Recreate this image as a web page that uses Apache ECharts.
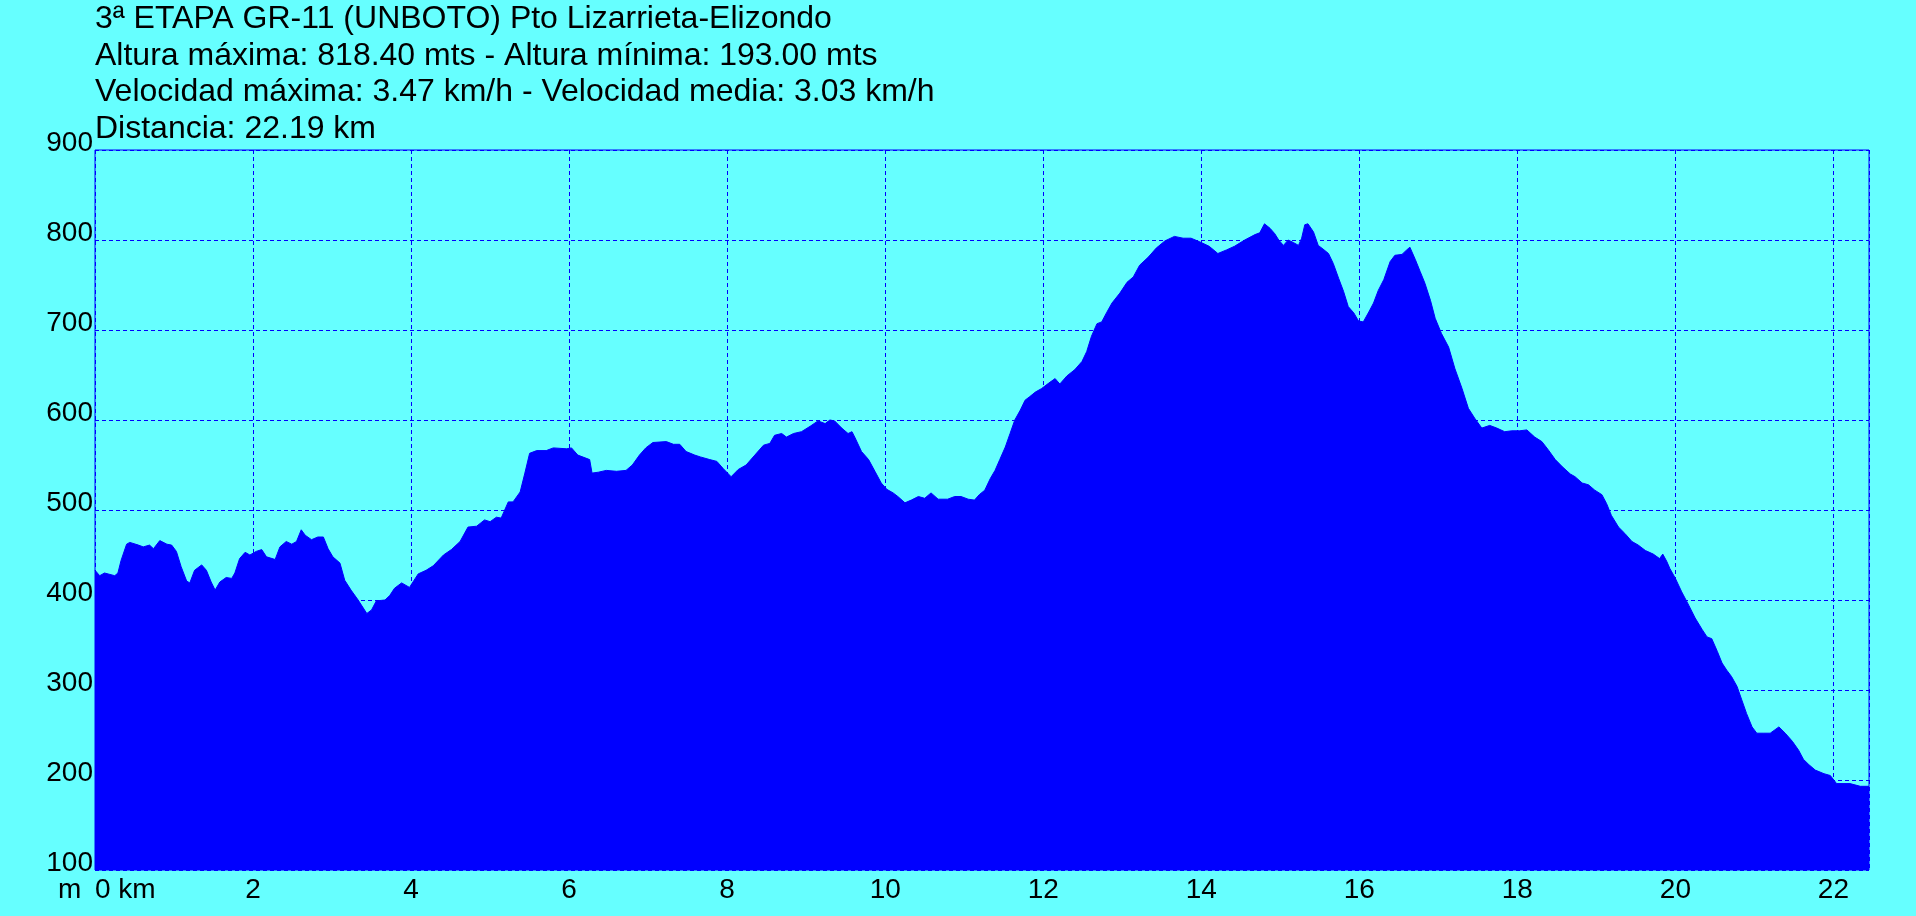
<!DOCTYPE html>
<html>
<head>
<meta charset="utf-8">
<script src="https://cdn.jsdelivr.net/npm/echarts@6/dist/echarts.min.js"></script>
<style>
  html, body { margin: 0; padding: 0; background: #66ffff; }
  #chart { width: 1916px; height: 916px; }
</style>
</head>
<body>
<div id="chart"></div>
<script>
// Title lines
const titleLines = [
  '3ª ETAPA GR-11 (UNBOTO) Pto Lizarrieta-Elizondo',
  'Altura máxima: 818.40 mts - Altura mínima: 193.00 mts',
  'Velocidad máxima: 3.47 km/h - Velocidad media: 3.03 km/h',
  'Distancia: 22.19 km'
];
const yUnit = 'm';
const xUnit = 'km';

// Distance (km) along the route
const distKm = [
  0.00, 0.06, 0.12, 0.25, 0.29, 0.33, 0.40, 0.44, 0.55, 0.61, 0.69, 0.74, 0.82, 0.91, 0.97,
  1.03, 1.09, 1.16, 1.20, 1.26, 1.35, 1.41, 1.47, 1.52, 1.58, 1.66, 1.73, 1.77, 1.83, 1.90, 1.96,
  2.04, 2.11, 2.17, 2.28, 2.34, 2.42, 2.49, 2.55, 2.61, 2.66, 2.74, 2.82, 2.89, 2.95,
  3.01, 3.10, 3.16, 3.24, 3.33, 3.44, 3.50, 3.56, 3.67, 3.73, 3.79, 3.88, 3.98,
  4.09, 4.19, 4.28, 4.41, 4.51, 4.62, 4.72, 4.83, 4.93, 5.00, 5.08, 5.14, 5.23, 5.29, 5.38, 5.44,
  5.50, 5.59, 5.71, 5.80, 5.97, 6.03, 6.11, 6.26, 6.29, 6.37, 6.47, 6.60, 6.72, 6.80, 6.89, 6.97,
  7.06, 7.23, 7.32, 7.40, 7.48, 7.59, 7.66, 7.78, 7.87, 7.95, 8.05, 8.14, 8.24, 8.35, 8.46, 8.54,
  8.60, 8.69, 8.75, 8.84, 8.94, 9.05, 9.15, 9.24, 9.30, 9.36, 9.45, 9.53, 9.58, 9.62, 9.70, 9.79,
  9.87, 9.95, 10.02, 10.10, 10.16, 10.25, 10.33, 10.42, 10.50, 10.58, 10.67, 10.79, 10.88, 10.96,
  11.05, 11.13, 11.19, 11.26, 11.33, 11.39, 11.45, 11.52, 11.58, 11.64, 11.71, 11.77, 11.83, 11.90,
  11.98, 12.07, 12.15, 12.21, 12.30, 12.40, 12.49, 12.55, 12.61, 12.68, 12.74, 12.80, 12.87, 12.97,
  13.06, 13.14, 13.22, 13.33, 13.43, 13.54, 13.66, 13.77, 13.87, 13.98, 14.10, 14.21, 14.32, 14.42,
  14.55, 14.68, 14.74, 14.80, 14.87, 14.93, 14.98, 15.04, 15.10, 15.17, 15.23, 15.27, 15.31, 15.35,
  15.42, 15.48, 15.54, 15.61, 15.67, 15.74, 15.80, 15.86, 15.93, 15.99, 16.05, 16.12, 16.18, 16.24,
  16.31, 16.39, 16.45, 16.54, 16.60, 16.64, 16.71, 16.77, 16.83, 16.90, 16.96, 17.04, 17.13, 17.21,
  17.30, 17.38, 17.46, 17.55, 17.65, 17.74, 17.84, 17.93, 18.03, 18.12, 18.22, 18.31, 18.39, 18.48,
  18.57, 18.67, 18.73, 18.82, 18.90, 18.98, 19.07, 19.13, 19.19, 19.28, 19.36, 19.45, 19.53, 19.62,
  19.72, 19.80, 19.84, 19.89, 19.93, 20.00, 20.08, 20.17, 20.25, 20.34, 20.40, 20.46, 20.53, 20.59,
  20.65, 20.71, 20.78, 20.84, 20.90, 20.97, 21.03, 21.12, 21.20, 21.31, 21.39, 21.48, 21.56, 21.62,
  21.69, 21.77, 21.88, 21.96, 22.04, 22.21, 22.34, 22.45
];

// Elevation (m)
const elevM = [
  433, 427, 430, 427, 430, 444, 462, 464, 461, 459, 461, 457, 466, 462, 461,
  454, 437, 421, 419, 433, 439, 433, 420, 411, 420, 425, 424, 430, 446, 453, 450,
  454, 456, 448, 445, 459, 465, 462, 465, 478, 472, 467, 470, 470, 457,
  448, 441, 422, 411, 400, 385, 389, 399, 400, 405, 413, 419, 414,
  429, 433, 438, 450, 456, 465, 481, 482, 489, 487, 492, 491, 509, 509, 520, 541,
  563, 566, 566, 569, 568, 569, 561, 556, 541, 542, 544, 543, 544, 550, 561, 569,
  575, 576, 573, 573, 565, 561, 559, 556, 554, 546, 537, 545, 550, 561, 572, 574,
  583, 585, 581, 585, 587, 593, 599, 596, 600, 599, 591, 585, 587, 580, 565, 556,
  543, 530, 523, 519, 515, 508, 511, 515, 513, 519, 512, 512, 515, 515,
  512, 511, 517, 522, 535, 544, 556, 570, 585, 600, 611, 622, 626, 631,
  635, 641, 646, 640, 649, 656, 665, 676, 693, 707, 709, 719, 730, 741,
  753, 759, 772, 781, 791, 799, 804, 802, 802, 798, 793, 785, 789, 793,
  800, 806, 808, 818, 813, 807, 800, 794, 800, 797, 794, 802, 817, 818,
  809, 794, 790, 785, 774, 757, 743, 726, 719, 710, 709, 720, 730, 744,
  756, 776, 783, 784, 789, 792, 778, 765, 752, 733, 713, 696, 681, 657,
  635, 613, 602, 591, 594, 591, 587, 588, 588, 589, 581, 576, 567, 556,
  548, 540, 537, 530, 528, 522, 517, 507, 494, 481, 474, 465, 461, 455,
  451, 446, 451, 443, 435, 424, 409, 394, 380, 367, 359, 357, 343, 330,
  322, 315, 304, 289, 274, 259, 252, 252, 252, 259, 252, 243, 233, 223,
  217, 211, 207, 205, 196, 196, 193, 193
];

const profile = distKm.map((d, i) => [d, elevM[i]]);

const FONT = '"Liberation Sans", Arial, sans-serif';
const TITLE_FS = 32;
const titleBaselines = [29.5, 66, 102.5, 139];

const chart = echarts.init(document.getElementById('chart'), null, { renderer: 'canvas' });

const graphics = titleLines.map((t, i) => ({
  type: 'text',
  style: {
    text: t,
    x: 95,
    y: titleBaselines[i] - 10,
    fill: '#000000',
    font: TITLE_FS + 'px ' + FONT,
    align: 'left',
    verticalAlign: 'middle'
  },
  z: 100
}));
graphics.push({
  type: 'text',
  style: {
    text: yUnit,
    x: 58,
    y: 899 - 9,
    fill: '#000000',
    font: '28px ' + FONT,
    align: 'left',
    verticalAlign: 'middle'
  },
  z: 100
});

chart.setOption({
  backgroundColor: '#66ffff',
  animation: false,
  grid: {
    left: 95,
    right: 47,
    top: 150,
    height: 720,
    show: true,
    borderColor: '#0000ff',
    borderWidth: 1,
    backgroundColor: 'transparent'
  },
  graphic: graphics,
  xAxis: {
    type: 'value',
    min: 0,
    max: 22.45,
    interval: 2,
    axisLine: { show: false },
    axisTick: { show: false },
    splitLine: { show: true, lineStyle: { color: '#0000ff', type: [4, 3], width: 1 } },
    axisLabel: {
      color: '#000000',
      fontSize: 28,
      fontFamily: FONT,
      lineHeight: 28,
      margin: 6,
      showMaxLabel: false,
      alignMinLabel: 'left',
      formatter: v => (v === 0 ? '0 ' + xUnit : String(v))
    }
  },
  yAxis: {
    type: 'value',
    min: 100,
    max: 900,
    interval: 100,
    axisLine: { show: false },
    axisTick: { show: false },
    splitLine: { show: true, lineStyle: { color: '#0000ff', type: [4, 3], width: 1 } },
    axisLabel: {
      color: '#000000',
      fontSize: 28,
      fontFamily: FONT,
      margin: 2,
      verticalAlign: 'bottom',
      lineHeight: 14
    }
  },
  series: [{
    type: 'line',
    data: profile,
    symbol: 'none',
    lineStyle: { color: '#0000ff', width: 1 },
    areaStyle: { color: '#0000ff', opacity: 1, origin: 'start' },
    itemStyle: { color: '#0000ff' }
  }]
});
</script>
</body>
</html>
